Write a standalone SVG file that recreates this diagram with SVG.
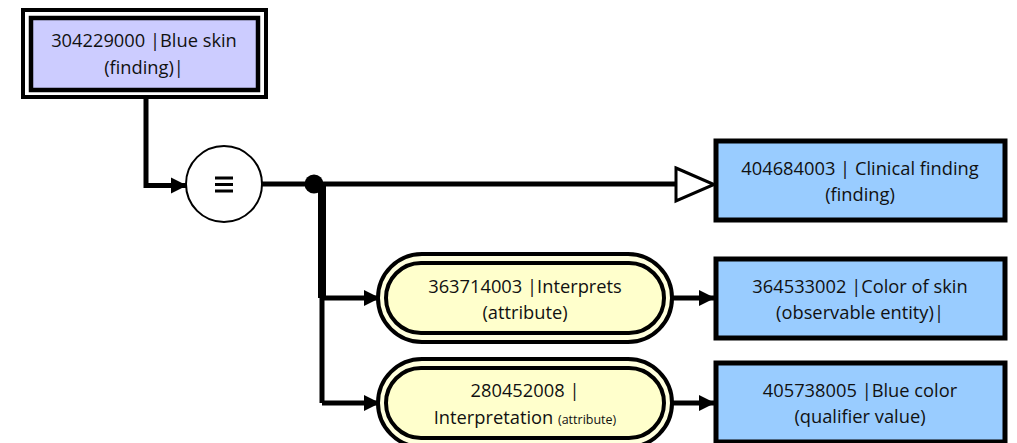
<svg xmlns="http://www.w3.org/2000/svg" width="1017" height="443" viewBox="0 0 1017 443">
  <style>
    text { font-family: "Open Sans", "Liberation Sans", sans-serif; font-size: 18.3px; fill: #111; text-anchor: middle; }
    .small { font-size: 12.5px; }
    .wire { fill: none; stroke: #000; stroke-width: 5; }
    .concept { fill: #99CCFF; stroke: #000; stroke-width: 5; }
    .frame { fill: #fff; stroke: #000; stroke-width: 4; }
    .defined { fill: #CCCCFF; stroke: #000; stroke-width: 4.5; }
    .pill-out { fill: #FFFFDD; stroke: #000; stroke-width: 4; }
    .pill-in { fill: #FFFFCC; stroke: #000; stroke-width: 4; }
  </style>
  <defs>
    <marker id="arrow" viewBox="0 0 10 10" refX="10" refY="5" markerWidth="3.2" markerHeight="3.4" orient="auto" markerUnits="strokeWidth">
      <path d="M0,0 L10,5 L0,10 z" fill="#000"/>
    </marker>
  </defs>

  <!-- connectors -->
  <g id="connectors">
    <path class="wire" d="M146,94 V185.5 H187" marker-end="url(#arrow)"/>
    <path class="wire" d="M262,184 H675"/>
    <path class="wire" d="M322,184 V298" style="stroke-width:8"/>
    <path class="wire" d="M322,296 V403"/>
    <path class="wire" d="M320,298 H380" marker-end="url(#arrow)"/>
    <path class="wire" d="M322,403 H380" marker-end="url(#arrow)"/>
    <path class="wire" d="M670,298 H715" marker-end="url(#arrow)"/>
    <path class="wire" d="M670,403 H715" marker-end="url(#arrow)"/>
    <circle cx="314" cy="184" r="9.5" fill="#000"/>
    <!-- open "is a" arrowhead -->
    <polygon points="676,168 714,184.5 676,201" fill="#fff" stroke="#000" stroke-width="3"/>
  </g>

  <!-- defined concept -->
  <g id="n-blue-skin">
    <rect class="frame" x="23" y="10" width="243" height="87"/>
    <rect class="defined" x="31" y="18" width="227" height="72"/>
    <text x="144" y="47">304229000 |Blue skin</text>
    <text x="144" y="74">(finding)|</text>
  </g>

  <!-- equivalence operator -->
  <g id="n-equiv">
    <circle cx="224" cy="184" r="38" fill="#fff" stroke="#000" stroke-width="2"/>
    <path d="M215,178 H233 M215,184.5 H233 M215,191 H233" stroke="#000" stroke-width="2.8"/>
  </g>

  <g id="n-clinical-finding">
    <rect class="concept" x="716" y="141" width="289" height="79"/>
    <text x="860" y="175">404684003 | Clinical finding</text>
    <text x="860" y="201">(finding)</text>
  </g>

  <g id="n-interprets">
    <rect class="pill-out" x="378" y="254" width="294" height="88" rx="44"/>
    <rect class="pill-in" x="386" y="263" width="278" height="70" rx="35"/>
    <text x="525" y="293">363714003 |Interprets</text>
    <text x="525" y="319">(attribute)</text>
  </g>

  <g id="n-color-of-skin">
    <rect class="concept" x="716" y="259" width="289" height="79"/>
    <text x="860" y="293">364533002 |Color of skin</text>
    <text x="860" y="319">(observable entity)|</text>
  </g>

  <g id="n-interpretation">
    <rect class="pill-out" x="378" y="359" width="294" height="88" rx="44"/>
    <rect class="pill-in" x="386" y="368" width="278" height="70" rx="35"/>
    <text x="525" y="397">280452008 |</text>
    <text x="525" y="424">Interpretation <tspan class="small">(attribute)</tspan></text>
  </g>

  <g id="n-blue-color">
    <rect class="concept" x="716" y="363" width="289" height="79"/>
    <text x="860" y="397">405738005 |Blue color</text>
    <text x="860" y="423">(qualifier value)</text>
  </g>
</svg>
